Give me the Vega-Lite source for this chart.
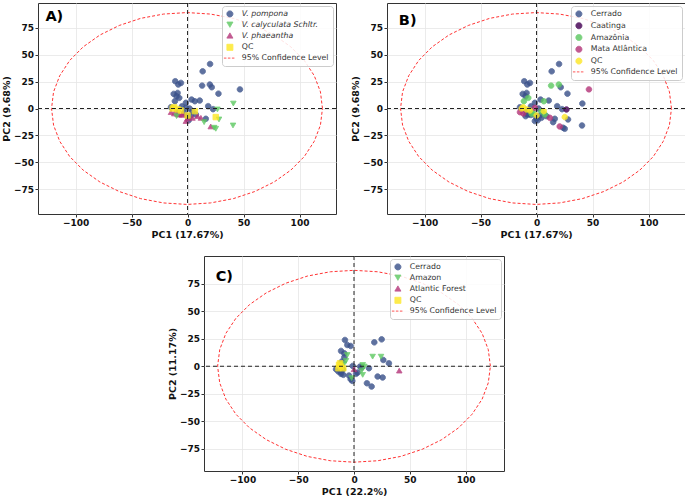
{
  "$schema": "https://vega.github.io/schema/vega-lite/v6.json",
  "padding": {"left": 0, "top": 2, "right": 0, "bottom": 0},
  "datasets": {
    "pcaAB": [
      {"pc1": 20.1, "pc2": 41.4, "species": "V. pompona", "biome": "Cerrado"},
      {"pc1": 13.5, "pc2": 34.6, "species": "V. pompona", "biome": "Cerrado"},
      {"pc1": -11, "pc2": 25.4, "species": "V. pompona", "biome": "Cerrado"},
      {"pc1": -5.9, "pc2": 23.8, "species": "V. pompona", "biome": "Cerrado"},
      {"pc1": -8.3, "pc2": 22.3, "species": "V. pompona", "biome": "Cerrado"},
      {"pc1": 21.6, "pc2": 19.8, "species": "V. pompona", "biome": "Cerrado"},
      {"pc1": 27.6, "pc2": 13.8, "species": "V. pompona", "biome": "Cerrado"},
      {"pc1": -12.4, "pc2": 13.6, "species": "V. pompona", "biome": "Cerrado"},
      {"pc1": -8.9, "pc2": 14.5, "species": "V. pompona", "biome": "Cerrado"},
      {"pc1": -9.8, "pc2": 11.4, "species": "V. pompona", "biome": "Cerrado"},
      {"pc1": 3.6, "pc2": 8.3, "species": "V. pompona", "biome": "Cerrado"},
      {"pc1": 10.9, "pc2": 7.4, "species": "V. pompona", "biome": "Cerrado"},
      {"pc1": -1.5, "pc2": 5.3, "species": "V. pompona", "biome": "Cerrado"},
      {"pc1": 18.4, "pc2": 2.2, "species": "V. pompona", "biome": "Cerrado"},
      {"pc1": 22.8, "pc2": -0.6, "species": "V. pompona", "biome": "Cerrado"},
      {"pc1": -14.8, "pc2": 1.2, "species": "V. pompona", "biome": "Cerrado"},
      {"pc1": 1.8, "pc2": 0, "species": "V. pompona", "biome": "Cerrado"},
      {"pc1": 0, "pc2": -7.1, "species": "V. pompona", "biome": "Cerrado"},
      {"pc1": 16.3, "pc2": -9.6, "species": "V. pompona", "biome": "Cerrado"},
      {"pc1": 3, "pc2": -6.5, "species": "V. pompona", "biome": "Cerrado"},
      {"pc1": -5, "pc2": 2, "species": "V. pompona", "biome": "Cerrado"},
      {"pc1": 1, "pc2": -11, "species": "V. pompona", "biome": "Cerrado"},
      {"pc1": -9, "pc2": -2, "species": "V. pompona", "biome": "Cerrado"},
      {"pc1": 40.9, "pc2": 4.6, "species": "V. calyculata Schltr.", "biome": "Cerrado"},
      {"pc1": 28.1, "pc2": -10.2, "species": "V. calyculata Schltr.", "biome": "Cerrado"},
      {"pc1": 14.8, "pc2": -12.7, "species": "V. calyculata Schltr.", "biome": "Cerrado"},
      {"pc1": 23.7, "pc2": -17.9, "species": "V. calyculata Schltr.", "biome": "Cerrado"},
      {"pc1": 25.2, "pc2": -18.9, "species": "V. calyculata Schltr.", "biome": "Cerrado"},
      {"pc1": 40.6, "pc2": -15.8, "species": "V. calyculata Schltr.", "biome": "Cerrado"},
      {"pc1": -9.8, "pc2": -7.1, "species": "V. calyculata Schltr.", "biome": "Cerrado"},
      {"pc1": -7.4, "pc2": -5.6, "species": "V. phaeantha", "biome": "Cerrado"},
      {"pc1": -1.5, "pc2": -11.7, "species": "V. phaeantha", "biome": "Cerrado"},
      {"pc1": 4.4, "pc2": -8.7, "species": "V. phaeantha", "biome": "Cerrado"},
      {"pc1": 0, "pc2": -9.3, "species": "V. phaeantha", "biome": "Cerrado"},
      {"pc1": 8.9, "pc2": -7.1, "species": "V. phaeantha", "biome": "Cerrado"},
      {"pc1": -9, "pc2": -5, "species": "V. phaeantha", "biome": "Cerrado"},
      {"pc1": -5, "pc2": -6, "species": "V. phaeantha", "biome": "Cerrado"},
      {"pc1": 26.7, "pc2": -0.9, "species": "V. calyculata Schltr.", "biome": "Caatinga"},
      {"pc1": 13, "pc2": 21.3, "species": "V. pompona", "biome": "Amazônia"},
      {"pc1": 19.9, "pc2": 22.3, "species": "V. pompona", "biome": "Amazônia"},
      {"pc1": -7.4, "pc2": 9.9, "species": "V. pompona", "biome": "Amazônia"},
      {"pc1": -11.3, "pc2": 6.8, "species": "V. pompona", "biome": "Amazônia"},
      {"pc1": 6.5, "pc2": 6.8, "species": "V. pompona", "biome": "Amazônia"},
      {"pc1": 4.4, "pc2": -2.5, "species": "V. pompona", "biome": "Amazônia"},
      {"pc1": -3, "pc2": -4, "species": "V. pompona", "biome": "Amazônia"},
      {"pc1": 7.4, "pc2": -5.6, "species": "V. pompona", "biome": "Amazônia"},
      {"pc1": -4.4, "pc2": -4.9, "species": "V. phaeantha", "biome": "Amazônia"},
      {"pc1": 46.8, "pc2": 17.8, "species": "V. pompona", "biome": "Mata Atlântica"},
      {"pc1": -1.5, "pc2": 0.6, "species": "V. pompona", "biome": "Mata Atlântica"},
      {"pc1": -14.8, "pc2": -3.4, "species": "V. phaeantha", "biome": "Mata Atlântica"},
      {"pc1": -11.9, "pc2": -4.6, "species": "V. phaeantha", "biome": "Mata Atlântica"},
      {"pc1": 11.9, "pc2": -8.7, "species": "V. phaeantha", "biome": "Mata Atlântica"},
      {"pc1": 20.7, "pc2": -16.7, "species": "V. phaeantha", "biome": "Mata Atlântica"},
      {"pc1": -11.9, "pc2": 1.2, "species": "QC", "biome": "QC"},
      {"pc1": -8.9, "pc2": -0.9, "species": "QC", "biome": "QC"},
      {"pc1": 6.5, "pc2": -2.5, "species": "QC", "biome": "QC"},
      {"pc1": 0, "pc2": -6.5, "species": "QC", "biome": "QC"},
      {"pc1": 25.2, "pc2": -8, "species": "QC", "biome": "QC"},
      {"pc1": -13.3, "pc2": 0, "species": "QC", "biome": "QC"},
      {"pc1": -5.9, "pc2": -1.9, "species": "QC", "biome": "QC"}
    ],
    "pcaC": [
      {"pc1": 24.8, "pc2": 24.4, "group": "Cerrado"},
      {"pc1": 18.2, "pc2": 21.7, "group": "Cerrado"},
      {"pc1": -8.1, "pc2": 23.8, "group": "Cerrado"},
      {"pc1": -6, "pc2": 19.3, "group": "Cerrado"},
      {"pc1": -3, "pc2": 18.4, "group": "Cerrado"},
      {"pc1": -11.6, "pc2": 13.9, "group": "Cerrado"},
      {"pc1": -8.7, "pc2": 11.7, "group": "Cerrado"},
      {"pc1": -8.7, "pc2": 8.1, "group": "Cerrado"},
      {"pc1": -11, "pc2": 4.2, "group": "Cerrado"},
      {"pc1": 26.3, "pc2": 5.7, "group": "Cerrado"},
      {"pc1": 31.3, "pc2": 2.7, "group": "Cerrado"},
      {"pc1": -1.2, "pc2": 0.3, "group": "Cerrado"},
      {"pc1": 5.4, "pc2": -0.3, "group": "Cerrado"},
      {"pc1": 13.4, "pc2": -1.8, "group": "Cerrado"},
      {"pc1": -16.1, "pc2": -2.7, "group": "Cerrado"},
      {"pc1": -14, "pc2": -4.8, "group": "Cerrado"},
      {"pc1": -11.6, "pc2": -6.9, "group": "Cerrado"},
      {"pc1": -9.6, "pc2": -7.8, "group": "Cerrado"},
      {"pc1": -4.5, "pc2": -8.4, "group": "Cerrado"},
      {"pc1": -3, "pc2": -11.7, "group": "Cerrado"},
      {"pc1": -1.5, "pc2": -13.3, "group": "Cerrado"},
      {"pc1": 1.8, "pc2": -6.9, "group": "Cerrado"},
      {"pc1": 3.3, "pc2": -5.7, "group": "Cerrado"},
      {"pc1": 21.2, "pc2": -9.3, "group": "Cerrado"},
      {"pc1": 25.7, "pc2": -10.2, "group": "Cerrado"},
      {"pc1": 11.6, "pc2": -15.4, "group": "Cerrado"},
      {"pc1": 15.8, "pc2": -18.4, "group": "Cerrado"},
      {"pc1": 6.9, "pc2": -1.2, "group": "Cerrado"},
      {"pc1": -10, "pc2": -3, "group": "Cerrado"},
      {"pc1": -12, "pc2": -5, "group": "Cerrado"},
      {"pc1": 16.7, "pc2": 8.7, "group": "Amazon"},
      {"pc1": 24.2, "pc2": 8.7, "group": "Amazon"},
      {"pc1": -6, "pc2": 10.2, "group": "Amazon"},
      {"pc1": -7.2, "pc2": 4.8, "group": "Amazon"},
      {"pc1": 7.8, "pc2": 1.2, "group": "Amazon"},
      {"pc1": 9.3, "pc2": -0.3, "group": "Amazon"},
      {"pc1": 6.9, "pc2": -3.9, "group": "Amazon"},
      {"pc1": 7.8, "pc2": -7.8, "group": "Amazon"},
      {"pc1": -2.1, "pc2": -10.8, "group": "Amazon"},
      {"pc1": -9, "pc2": 2, "group": "Amazon"},
      {"pc1": 40.6, "pc2": -3.9, "group": "Atlantic Forest"},
      {"pc1": 0, "pc2": -2.7, "group": "Atlantic Forest"},
      {"pc1": -13.4, "pc2": 1.2, "group": "QC"},
      {"pc1": -11.6, "pc2": -0.3, "group": "QC"},
      {"pc1": -9.6, "pc2": -1.8, "group": "QC"},
      {"pc1": -14, "pc2": -1.8, "group": "QC"},
      {"pc1": -12.5, "pc2": 2.7, "group": "QC"}
    ],
    "ellipseAB": [
      {"k": 0, "ex": 120.5, "ey": 0}, {"k": 1, "ex": 118.7, "ey": 15.5}, {"k": 2, "ex": 113.2, "ey": 30.5},
      {"k": 3, "ex": 104.3, "ey": 44.7}, {"k": 4, "ex": 92.2, "ey": 57.4}, {"k": 5, "ex": 77.3, "ey": 68.4},
      {"k": 6, "ex": 60.0, "ey": 77.3}, {"k": 7, "ex": 40.9, "ey": 83.9}, {"k": 8, "ex": 20.5, "ey": 87.9},
      {"k": 9, "ex": -0.5, "ey": 89.3}, {"k": 10, "ex": -21.5, "ey": 87.9}, {"k": 11, "ex": -41.9, "ey": 83.9},
      {"k": 12, "ex": -61.0, "ey": 77.3}, {"k": 13, "ex": -78.3, "ey": 68.4}, {"k": 14, "ex": -93.2, "ey": 57.4},
      {"k": 15, "ex": -105.3, "ey": 44.7}, {"k": 16, "ex": -114.2, "ey": 30.5}, {"k": 17, "ex": -119.7, "ey": 15.5},
      {"k": 18, "ex": -121.5, "ey": 0}, {"k": 19, "ex": -119.7, "ey": -15.5}, {"k": 20, "ex": -114.2, "ey": -30.5},
      {"k": 21, "ex": -105.3, "ey": -44.7}, {"k": 22, "ex": -93.2, "ey": -57.4}, {"k": 23, "ex": -78.3, "ey": -68.4},
      {"k": 24, "ex": -61.0, "ey": -77.3}, {"k": 25, "ex": -41.9, "ey": -83.9}, {"k": 26, "ex": -21.5, "ey": -87.9},
      {"k": 27, "ex": -0.5, "ey": -89.3}, {"k": 28, "ex": 20.5, "ey": -87.9}, {"k": 29, "ex": 40.9, "ey": -83.9},
      {"k": 30, "ex": 60.0, "ey": -77.3}, {"k": 31, "ex": 77.3, "ey": -68.4}, {"k": 32, "ex": 92.2, "ey": -57.4},
      {"k": 33, "ex": 104.3, "ey": -44.7}, {"k": 34, "ex": 113.2, "ey": -30.5}, {"k": 35, "ex": 118.7, "ey": -15.5},
      {"k": 36, "ex": 120.5, "ey": 0}
    ],
    "ellipseC": [
      {"k": 0, "ex": 122.3, "ey": 0}, {"k": 1, "ex": 120.4, "ey": 15.1}, {"k": 2, "ex": 114.9, "ey": 29.8},
      {"k": 3, "ex": 105.9, "ey": 43.5}, {"k": 4, "ex": 93.7, "ey": 55.9}, {"k": 5, "ex": 78.6, "ey": 66.6},
      {"k": 6, "ex": 61.2, "ey": 75.3}, {"k": 7, "ex": 41.8, "ey": 81.8}, {"k": 8, "ex": 21.2, "ey": 85.7},
      {"k": 9, "ex": 0, "ey": 87}, {"k": 10, "ex": -21.2, "ey": 85.7}, {"k": 11, "ex": -41.8, "ey": 81.8},
      {"k": 12, "ex": -61.2, "ey": 75.3}, {"k": 13, "ex": -78.6, "ey": 66.6}, {"k": 14, "ex": -93.7, "ey": 55.9},
      {"k": 15, "ex": -105.9, "ey": 43.5}, {"k": 16, "ex": -114.9, "ey": 29.8}, {"k": 17, "ex": -120.4, "ey": 15.1},
      {"k": 18, "ex": -122.3, "ey": 0}, {"k": 19, "ex": -120.4, "ey": -15.1}, {"k": 20, "ex": -114.9, "ey": -29.8},
      {"k": 21, "ex": -105.9, "ey": -43.5}, {"k": 22, "ex": -93.7, "ey": -55.9}, {"k": 23, "ex": -78.6, "ey": -66.6},
      {"k": 24, "ex": -61.2, "ey": -75.3}, {"k": 25, "ex": -41.8, "ey": -81.8}, {"k": 26, "ex": -21.2, "ey": -85.7},
      {"k": 27, "ex": 0, "ey": -87}, {"k": 28, "ex": 21.2, "ey": -85.7}, {"k": 29, "ex": 41.8, "ey": -81.8},
      {"k": 30, "ex": 61.2, "ey": -75.3}, {"k": 31, "ex": 78.6, "ey": -66.6}, {"k": 32, "ex": 93.7, "ey": -55.9},
      {"k": 33, "ex": 105.9, "ey": -43.5}, {"k": 34, "ex": 114.9, "ey": -29.8}, {"k": 35, "ex": 120.4, "ey": -15.1},
      {"k": 36, "ex": 122.3, "ey": 0}
    ]
  },
  "spacing": 10,
  "center": true,
  "resolve": {"scale": {"color": "independent", "stroke": "independent", "shape": "independent", "strokeDash": "independent"}},
  "vconcat": [
    {
      "spacing": 12,
      "resolve": {"scale": {"color": "independent", "stroke": "independent", "shape": "independent", "strokeDash": "independent"}},
      "hconcat": [
        {
          "width": 298,
          "height": 211,
          "layer": [
            {
              "data": {"name": "pcaAB"},
              "mark": {"type": "point", "filled": true, "size": 30, "opacity": 0.82, "strokeWidth": 1},
              "encoding": {
                "x": {"field": "pc1", "type": "quantitative", "scale": {"domain": [-133.6, 132.6], "nice": false, "zero": false}, "axis": {"title": "PC1 (17.67%)", "values": [-100, -50, 0, 50, 100]}},
                "y": {"field": "pc2", "type": "quantitative", "scale": {"domain": [-98.2, 98.2], "nice": false, "zero": false}, "axis": {"title": "PC2 (9.68%)", "values": [-75, -50, -25, 0, 25, 50, 75]}},
                "color": {"field": "species", "type": "nominal", "scale": {"domain": ["V. pompona", "V. calyculata Schltr.", "V. phaeantha", "QC", "95% Confidence Level"], "range": ["#3b528b", "#5ec962", "#b5367a", "#fde725", "#ff3333"]}, "legend": {"title": null, "labelFontStyle": {"expr": "datum.label == 'QC' || datum.label == '95% Confidence Level' ? 'normal' : 'italic'"}}},
                "stroke": {"field": "species", "type": "nominal", "scale": {"domain": ["V. pompona", "V. calyculata Schltr.", "V. phaeantha", "QC", "95% Confidence Level"], "range": ["#3b528b", "#5ec962", "#b5367a", "#fde725", "#ff3333"]}, "legend": {"title": null, "labelFontStyle": {"expr": "datum.label == 'QC' || datum.label == '95% Confidence Level' ? 'normal' : 'italic'"}}},
                "shape": {"field": "species", "type": "nominal", "scale": {"domain": ["V. pompona", "V. calyculata Schltr.", "V. phaeantha", "QC", "95% Confidence Level"], "range": ["circle", "triangle-down", "triangle-up", "square", "M-2,0H2"]}, "legend": {"title": null, "labelFontStyle": {"expr": "datum.label == 'QC' || datum.label == '95% Confidence Level' ? 'normal' : 'italic'"}}},
                "strokeDash": {"field": "species", "type": "nominal", "scale": {"domain": ["V. pompona", "V. calyculata Schltr.", "V. phaeantha", "QC", "95% Confidence Level"], "range": [[1, 0], [1, 0], [1, 0], [1, 0], [2.5, 1.5]]}, "legend": {"title": null, "labelFontStyle": {"expr": "datum.label == 'QC' || datum.label == '95% Confidence Level' ? 'normal' : 'italic'"}}},
                "order": {"field": "species", "sort": "descending"}
              }
            },
            {
              "data": {"name": "ellipseAB"},
              "mark": {"type": "line", "color": "#ff3333", "strokeWidth": 1, "strokeDash": [3, 2]},
              "encoding": {
                "x": {"field": "ex", "type": "quantitative", "scale": {"domain": [-133.6, 132.6], "nice": false, "zero": false}, "axis": {"title": "PC1 (17.67%)", "values": [-100, -50, 0, 50, 100]}},
                "y": {"field": "ey", "type": "quantitative", "scale": {"domain": [-98.2, 98.2], "nice": false, "zero": false}, "axis": {"title": "PC2 (9.68%)", "values": [-75, -50, -25, 0, 25, 50, 75]}},
                "order": {"field": "k"}
              }
            },
            {
              "data": {"values": [{}]},
              "mark": {"type": "rule", "color": "#222222", "strokeWidth": 1, "strokeDash": [4, 3]},
              "encoding": {"x": {"datum": 0, "type": "quantitative", "scale": {"domain": [-133.6, 132.6], "nice": false, "zero": false}, "axis": {"title": "PC1 (17.67%)", "values": [-100, -50, 0, 50, 100]}}}
            },
            {
              "data": {"values": [{}]},
              "mark": {"type": "rule", "color": "#222222", "strokeWidth": 1, "strokeDash": [4, 3]},
              "encoding": {"y": {"datum": 0, "type": "quantitative", "scale": {"domain": [-98.2, 98.2], "nice": false, "zero": false}, "axis": {"title": "PC2 (9.68%)", "values": [-75, -50, -25, 0, 25, 50, 75]}}}
            },
            {
              "data": {"values": [{}]},
              "mark": {"type": "text", "font": "DejaVu Sans", "fontSize": 14.5, "fontWeight": "bold", "align": "left", "baseline": "middle", "color": "#000000"},
              "encoding": {
                "x": {"datum": -127, "type": "quantitative", "scale": {"domain": [-133.6, 132.6], "nice": false, "zero": false}, "axis": {"title": "PC1 (17.67%)", "values": [-100, -50, 0, 50, 100]}},
                "y": {"datum": 85.5, "type": "quantitative", "scale": {"domain": [-98.2, 98.2], "nice": false, "zero": false}, "axis": {"title": "PC2 (9.68%)", "values": [-75, -50, -25, 0, 25, 50, 75]}},
                "text": {"value": "A)"}
              }
            }
          ]
        },
        {
          "width": 298,
          "height": 211,
          "layer": [
            {
              "data": {"name": "pcaAB"},
              "mark": {"type": "point", "filled": true, "size": 30, "opacity": 0.82, "strokeWidth": 1},
              "encoding": {
                "x": {"field": "pc1", "type": "quantitative", "scale": {"domain": [-133.6, 132.6], "nice": false, "zero": false}, "axis": {"title": "PC1 (17.67%)", "values": [-100, -50, 0, 50, 100]}},
                "y": {"field": "pc2", "type": "quantitative", "scale": {"domain": [-98.2, 98.2], "nice": false, "zero": false}, "axis": {"title": "PC2 (9.68%)", "values": [-75, -50, -25, 0, 25, 50, 75]}},
                "color": {"field": "biome", "type": "nominal", "scale": {"domain": ["Cerrado", "Caatinga", "Amazônia", "Mata Atlântica", "QC", "95% Confidence Level"], "range": ["#3b528b", "#440154", "#5ec962", "#b5367a", "#fde725", "#ff3333"]}, "legend": {"title": null}},
                "stroke": {"field": "biome", "type": "nominal", "scale": {"domain": ["Cerrado", "Caatinga", "Amazônia", "Mata Atlântica", "QC", "95% Confidence Level"], "range": ["#3b528b", "#440154", "#5ec962", "#b5367a", "#fde725", "#ff3333"]}, "legend": {"title": null}},
                "shape": {"field": "biome", "type": "nominal", "scale": {"domain": ["Cerrado", "Caatinga", "Amazônia", "Mata Atlântica", "QC", "95% Confidence Level"], "range": ["circle", "circle", "circle", "circle", "circle", "M-2,0H2"]}, "legend": {"title": null}},
                "strokeDash": {"field": "biome", "type": "nominal", "scale": {"domain": ["Cerrado", "Caatinga", "Amazônia", "Mata Atlântica", "QC", "95% Confidence Level"], "range": [[1, 0], [1, 0], [1, 0], [1, 0], [1, 0], [2.5, 1.5]]}, "legend": {"title": null}}
              }
            },
            {
              "data": {"name": "ellipseAB"},
              "mark": {"type": "line", "color": "#ff3333", "strokeWidth": 1, "strokeDash": [3, 2]},
              "encoding": {
                "x": {"field": "ex", "type": "quantitative", "scale": {"domain": [-133.6, 132.6], "nice": false, "zero": false}, "axis": {"title": "PC1 (17.67%)", "values": [-100, -50, 0, 50, 100]}},
                "y": {"field": "ey", "type": "quantitative", "scale": {"domain": [-98.2, 98.2], "nice": false, "zero": false}, "axis": {"title": "PC2 (9.68%)", "values": [-75, -50, -25, 0, 25, 50, 75]}},
                "order": {"field": "k"}
              }
            },
            {
              "data": {"values": [{}]},
              "mark": {"type": "rule", "color": "#222222", "strokeWidth": 1, "strokeDash": [4, 3]},
              "encoding": {"x": {"datum": 0, "type": "quantitative", "scale": {"domain": [-133.6, 132.6], "nice": false, "zero": false}, "axis": {"title": "PC1 (17.67%)", "values": [-100, -50, 0, 50, 100]}}}
            },
            {
              "data": {"values": [{}]},
              "mark": {"type": "rule", "color": "#222222", "strokeWidth": 1, "strokeDash": [4, 3]},
              "encoding": {"y": {"datum": 0, "type": "quantitative", "scale": {"domain": [-98.2, 98.2], "nice": false, "zero": false}, "axis": {"title": "PC2 (9.68%)", "values": [-75, -50, -25, 0, 25, 50, 75]}}}
            },
            {
              "data": {"values": [{}]},
              "mark": {"type": "text", "font": "DejaVu Sans", "fontSize": 14.5, "fontWeight": "bold", "align": "left", "baseline": "middle", "color": "#000000"},
              "encoding": {
                "x": {"datum": -123, "type": "quantitative", "scale": {"domain": [-133.6, 132.6], "nice": false, "zero": false}, "axis": {"title": "PC1 (17.67%)", "values": [-100, -50, 0, 50, 100]}},
                "y": {"datum": 81, "type": "quantitative", "scale": {"domain": [-98.2, 98.2], "nice": false, "zero": false}, "axis": {"title": "PC2 (9.68%)", "values": [-75, -50, -25, 0, 25, 50, 75]}},
                "text": {"value": "B)"}
              }
            }
          ]
        }
      ]
    },
    {
      "spacing": 14,
      "resolve": {"scale": {"color": "independent", "stroke": "independent", "shape": "independent", "strokeDash": "independent"}},
      "hconcat": [
        {
          "width": 300,
          "height": 215,
          "layer": [
            {
              "data": {"name": "pcaC"},
              "mark": {"type": "point", "filled": true, "size": 30, "opacity": 0.82, "strokeWidth": 1},
              "encoding": {
                "x": {"field": "pc1", "type": "quantitative", "scale": {"domain": [-134.5, 134.5], "nice": false, "zero": false}, "axis": {"title": "PC1 (22.2%)", "values": [-100, -50, 0, 50, 100]}},
                "y": {"field": "pc2", "type": "quantitative", "scale": {"domain": [-95, 100], "nice": false, "zero": false}, "axis": {"title": "PC2 (11.17%)", "values": [-75, -50, -25, 0, 25, 50, 75]}},
                "color": {"field": "group", "type": "nominal", "scale": {"domain": ["Cerrado", "Amazon", "Atlantic Forest", "QC", "95% Confidence Level"], "range": ["#3b528b", "#5ec962", "#b5367a", "#fde725", "#ff3333"]}, "legend": {"title": null}},
                "stroke": {"field": "group", "type": "nominal", "scale": {"domain": ["Cerrado", "Amazon", "Atlantic Forest", "QC", "95% Confidence Level"], "range": ["#3b528b", "#5ec962", "#b5367a", "#fde725", "#ff3333"]}, "legend": {"title": null}},
                "shape": {"field": "group", "type": "nominal", "scale": {"domain": ["Cerrado", "Amazon", "Atlantic Forest", "QC", "95% Confidence Level"], "range": ["circle", "triangle-down", "triangle-up", "square", "M-2,0H2"]}, "legend": {"title": null}},
                "strokeDash": {"field": "group", "type": "nominal", "scale": {"domain": ["Cerrado", "Amazon", "Atlantic Forest", "QC", "95% Confidence Level"], "range": [[1, 0], [1, 0], [1, 0], [1, 0], [2.5, 1.5]]}, "legend": {"title": null}}
              }
            },
            {
              "data": {"name": "ellipseC"},
              "mark": {"type": "line", "color": "#ff3333", "strokeWidth": 1, "strokeDash": [3, 2]},
              "encoding": {
                "x": {"field": "ex", "type": "quantitative", "scale": {"domain": [-134.5, 134.5], "nice": false, "zero": false}, "axis": {"title": "PC1 (22.2%)", "values": [-100, -50, 0, 50, 100]}},
                "y": {"field": "ey", "type": "quantitative", "scale": {"domain": [-95, 100], "nice": false, "zero": false}, "axis": {"title": "PC2 (11.17%)", "values": [-75, -50, -25, 0, 25, 50, 75]}},
                "order": {"field": "k"}
              }
            },
            {
              "data": {"values": [{}]},
              "mark": {"type": "rule", "color": "#222222", "strokeWidth": 1, "strokeDash": [4, 3]},
              "encoding": {"x": {"datum": 0, "type": "quantitative", "scale": {"domain": [-134.5, 134.5], "nice": false, "zero": false}, "axis": {"title": "PC1 (22.2%)", "values": [-100, -50, 0, 50, 100]}}}
            },
            {
              "data": {"values": [{}]},
              "mark": {"type": "rule", "color": "#222222", "strokeWidth": 1, "strokeDash": [4, 3]},
              "encoding": {"y": {"datum": 0, "type": "quantitative", "scale": {"domain": [-95, 100], "nice": false, "zero": false}, "axis": {"title": "PC2 (11.17%)", "values": [-75, -50, -25, 0, 25, 50, 75]}}}
            },
            {
              "data": {"values": [{}]},
              "mark": {"type": "text", "font": "DejaVu Sans", "fontSize": 14.5, "fontWeight": "bold", "align": "left", "baseline": "middle", "color": "#000000"},
              "encoding": {
                "x": {"datum": -124, "type": "quantitative", "scale": {"domain": [-134.5, 134.5], "nice": false, "zero": false}, "axis": {"title": "PC1 (22.2%)", "values": [-100, -50, 0, 50, 100]}},
                "y": {"datum": 81, "type": "quantitative", "scale": {"domain": [-95, 100], "nice": false, "zero": false}, "axis": {"title": "PC2 (11.17%)", "values": [-75, -50, -25, 0, 25, 50, 75]}},
                "text": {"value": "C)"}
              }
            }
          ]
        },
        {
          "width": 1,
          "height": 1,
          "view": {"stroke": null},
          "data": {"values": [{}]},
          "mark": {"type": "text", "text": ""}
        }
      ]
    }
  ],
  "config": {
    "font": "DejaVu Sans",
    "view": {"stroke": "#333333", "strokeWidth": 1},
    "axis": {
      "domain": false,
      "labelFont": "DejaVu Sans",
      "labelFontWeight": "bold",
      "labelFontSize": 9,
      "labelColor": "#111111",
      "labelPadding": 1.5,
      "titleFont": "DejaVu Sans",
      "titleFontWeight": "bold",
      "titleFontSize": 9.5,
      "titleColor": "#111111",
      "titlePadding": 2,
      "tickColor": "#333333",
      "tickSize": 3,
      "gridColor": "#e6e6e6",
      "gridWidth": 0.8
    },
    "legend": {
      "orient": "top-right",
      "offset": 3,
      "padding": 4,
      "fillColor": "rgba(255,255,255,0.85)",
      "strokeColor": "#cccccc",
      "cornerRadius": 3,
      "labelFont": "DejaVu Sans",
      "labelFontSize": 7.8,
      "labelColor": "#333333",
      "symbolSize": 36,
      "symbolStrokeWidth": 1,
      "rowPadding": 0.8,
      "labelOffset": 8
    }
  }
}
